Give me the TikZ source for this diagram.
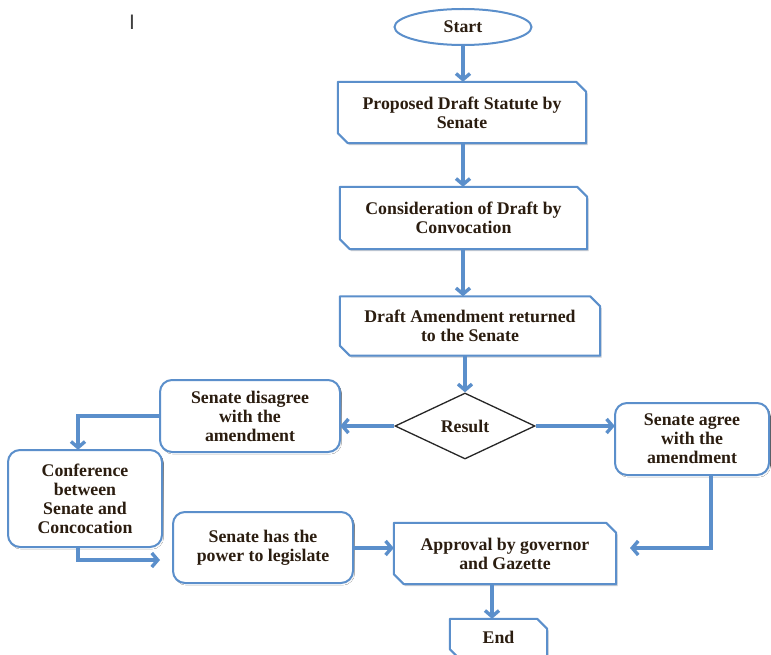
\documentclass[tikz,border=0pt]{standalone}
\usepackage{fontspec}
\setmainfont{Liberation Serif}
\newfontfamily\marksans{Liberation Sans}
\usetikzlibrary{shapes.geometric,arrows.meta,calc}
\definecolor{flowblue}{HTML}{5B8FCB}
\definecolor{inkbrown}{HTML}{2B1D10}
\definecolor{shade}{HTML}{C8CCD2}

\tikzset{
  x=1pt, y=-1pt,
  lbl/.style={font=\bfseries\fontsize{17.8}{19}\selectfont, text=inkbrown, align=center, inner sep=0pt},
  plainbox/.style={lbl, draw=none, minimum width=#1},
  roundbox/.style={lbl, draw=flowblue, line width=2pt, fill=white, rounded corners=12pt, minimum width=#1},
  terminal/.style={lbl, ellipse, draw=flowblue, line width=2pt, fill=white, minimum width=137pt, minimum height=36pt},
  decision/.style={lbl, diamond, draw=black!85, line width=1.3pt, fill=white, aspect=2.1, minimum width=140pt, minimum height=66pt},
  arr/.style={draw=flowblue, line width=3.4pt, -{Straight Barb[length=6pt,width=14pt]}},
  outline/.style={draw=flowblue, line width=2pt, fill=white, line join=round},
  shadowfill/.style={fill=shade, draw=none},
}

% box with snipped top-right and bottom-left corners
\newcommand\snipped[1]{%
  \fill[shadowfill] ([shift={(1.5pt,-2pt)}]#1.north west) -- ([shift={(-8.5pt,-2pt)}]#1.north east)
    -- ([shift={(1.5pt,-12pt)}]#1.north east) -- ([shift={(1.5pt,-2pt)}]#1.south east)
    -- ([shift={(11.5pt,-2pt)}]#1.south west) -- ([shift={(1.5pt,8pt)}]#1.south west) -- cycle;
  \draw[outline] (#1.north west) -- ([xshift=-10pt]#1.north east) -- ([yshift=-10pt]#1.north east)
    -- (#1.south east) -- ([xshift=10pt]#1.south west) -- ([yshift=10pt]#1.south west) -- cycle;
}
\newcommand\roundshade[1]{%
  \fill[shade, rounded corners=12pt] ([shift={(1.5pt,-2pt)}]#1.north west) rectangle ([shift={(1.5pt,-2pt)}]#1.south east);
}

\begin{document}
\begin{tikzpicture}
\clip (0,0) rectangle (771,655);
\fill[white] (0,0) rectangle (771,655);

% stray mark in the top-left corner
\node[font=\marksans\fontsize{21}{21}\selectfont, text=black!75, inner sep=0pt] (mark) at (132,22) {I};

% main column
\node[terminal] (start) at (463,27) {Start};

\node[plainbox=248pt, minimum height=61pt] (draft) at (462,112.5) {};
\snipped{draft}
\node[lbl] at (draft) {Proposed Draft Statute by\\Senate};

\node[plainbox=247pt, minimum height=62pt] (consider) at (463.5,218) {};
\snipped{consider}
\node[lbl] at (consider) {Consideration of Draft by\\Convocation};

\node[plainbox=260pt, minimum height=59pt] (returned) at (470,326) {};
\snipped{returned}
\node[lbl] at (returned) {Draft Amendment returned\\to the Senate};

\node[decision] (result) at (465,426) {Result};

% branches
\node[plainbox=180pt, minimum height=72pt] (disagree) at (250,416) {};
\roundshade{disagree}
\node[roundbox=180pt, minimum height=72pt] at (250,416) {Senate disagree\\with the\\amendment};

\node[plainbox=154pt, minimum height=72pt] (agree) at (692,439) {};
\roundshade{agree}
\node[roundbox=154pt, minimum height=72pt] at (692,439) {Senate agree\\with the\\amendment};

\node[plainbox=154pt, minimum height=97pt] (conference) at (85,498.5) {};
\roundshade{conference}
\node[roundbox=154pt, minimum height=97pt] at (85,498.5) {Conference\\between\\Senate and\\Concocation};

\node[plainbox=180pt, minimum height=71pt] (power) at (263,547.5) {};
\roundshade{power}
\node[roundbox=180pt, minimum height=71pt] at (263,547.5) {Senate has the\\power to legislate};

\node[plainbox=222pt, minimum height=61pt] (approval) at (505,553.5) {};
\snipped{approval}
\node[lbl] at (approval) {Approval by governor\\and Gazette};

\node[plainbox=97pt, minimum height=40pt] (finish) at (498.5,639) {};
\snipped{finish}
\node[lbl] at (498.5,637) {End};

% connectors
\coordinate (colx) at (463,0);
\draw[arr] (start.south) -- (draft.north -| colx);
\draw[arr] (draft.south -| colx) -- (consider.north -| colx);
\draw[arr] (consider.south -| colx) -- (returned.north -| colx);
\draw[arr] (returned.south -| result) -- (result.north);

\draw[arr] (result.west) -- (result.west -| disagree.east);
\draw[arr] (result.east) -- (result.east -| agree.west);

\coordinate (leftx) at (78,0);
\draw[arr] (disagree.west) -| (conference.north -| leftx);

\coordinate (confend) at (160,560);
\draw[arr] (conference.south -| leftx) |- (confend);

\draw[arr] (power.east |- 0,548) -- (approval.west |- 0,548);

\coordinate (agreex) at (711,0);
\coordinate (agreeend) at (630,548);
\draw[arr] (agree.south -| agreex) |- (agreeend);

\coordinate (lowx) at (492,0);
\draw[arr] (approval.south -| lowx) -- (finish.north -| lowx);
\end{tikzpicture}
\end{document}
